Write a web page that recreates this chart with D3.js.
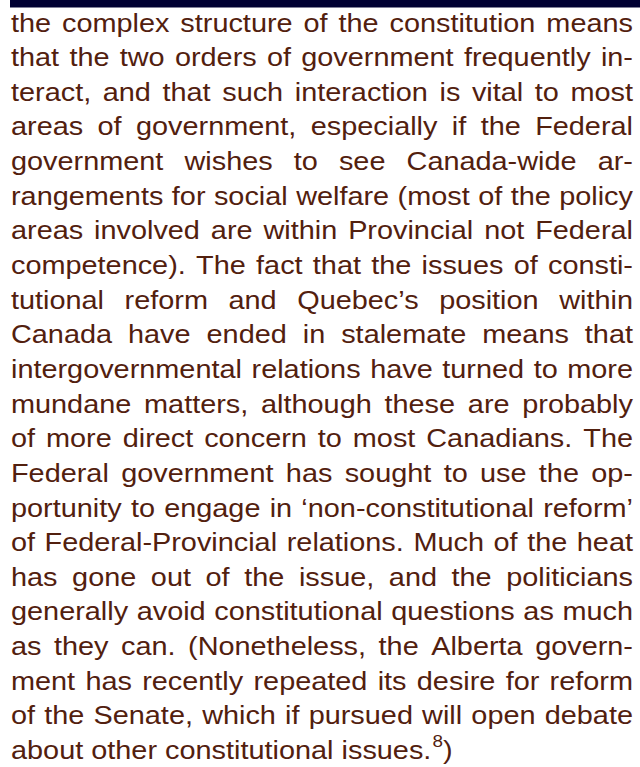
<!DOCTYPE html>
<html lang="en">
    <head>
        <meta charset="UTF-8">
        <title>text page</title>
        <script src="https://cdn.jsdelivr.net/npm/d3@7"></script>
        <style>
            body { margin: 0; background: #fff; }
        </style>
    </head>
    <body>
        <div id="page"></div>
    </body>
    <script>
        // lines of the paragraph, as set in the page
        var lines = [
            "the complex structure of the constitution means",
            "that the two orders of government frequently in-",
            "teract, and that such interaction is vital to most",
            "areas of government, especially if the Federal",
            "government wishes to see Canada-wide ar-",
            "rangements for social welfare (most of the policy",
            "areas involved are within Provincial not Federal",
            "competence). The fact that the issues of consti-",
            "tutional reform and Quebec\u2019s position within",
            "Canada have ended in stalemate means that",
            "intergovernmental relations have turned to more",
            "mundane matters, although these are probably",
            "of more direct concern to most Canadians. The",
            "Federal government has sought to use the op-",
            "portunity to engage in \u2018non-constitutional reform\u2019",
            "of Federal-Provincial relations. Much of the heat",
            "has gone out of the issue, and the politicians",
            "generally avoid constitutional questions as much",
            "as they can. (Nonetheless, the Alberta govern-",
            "ment has recently repeated its desire for reform",
            "of the Senate, which if pursued will open debate",
            "about other constitutional issues."
        ];
        var footnoteMark = "8";
        var closing = ")";

        var width = 640;
        var height = 767;
        var left = 11, right = 633;
        var fontSize = 26;
        var sx = 1.11;  // glyphs in the picture are a bit wider than tall
        var font = "'Liberation Sans', Arial, sans-serif";
        var ink = "#52200e";

        var svg = d3.select("#page")
            .append("svg")
            .attr("width", width)
            .attr("height", height);

        // dark band on top
        svg.append("rect")
            .attr("x", 10)
            .attr("y", 0)
            .attr("width", width - 10)
            .attr("height", 7.5)
            .attr("fill", "#000033");

        // baseline of each line
        var yScale = d3.scaleLinear()
            .domain([0, lines.length - 1])
            .range([31.5, 759]);

        var measure = svg.append("text")
            .attr("font-family", font)
            .attr("font-size", fontSize)
            .attr("visibility", "hidden");
        function textWidth(s) {
            measure.text(s);
            return measure.node().getComputedTextLength();
        }
        var spaceW = textWidth("a a") - textWidth("aa");
        var inner = (right - left) / sx;

        lines.forEach(function (line, i) {
            var words = line.split(" ");
            var ws = words.map(textWidth);
            var total = d3.sum(ws);
            var last = i === lines.length - 1;
            var gap = (!last && words.length > 1) ? (inner - total) / (words.length - 1) : spaceW;
            var x = 0;
            var placed = words.map(function (w, j) {
                var d = {w: w, x: x};
                x += ws[j] + gap;
                return d;
            });

            var g = svg.append("g")
                .attr("transform", "translate(" + left + "," + yScale(i) + ") scale(" + sx + ",1)");
            g.selectAll("text")
                .data(placed)
                .enter()
                .append("text")
                .attr("x", function (d) { return d.x; })
                .attr("y", 0)
                .attr("font-family", font)
                .attr("font-size", fontSize)
                .attr("fill", ink)
                .text(function (d) { return d.w; });

            if (last) {
                var endX = placed[placed.length - 1].x + ws[ws.length - 1];
                var t = g.append("text")
                    .attr("x", endX + 1)
                    .attr("y", 0)
                    .attr("font-family", font)
                    .attr("fill", ink);
                t.append("tspan")
                    .attr("font-size", 17)
                    .attr("dy", -12)
                    .text(footnoteMark);
                t.append("tspan")
                    .attr("font-size", fontSize)
                    .attr("dy", 12)
                    .text(closing);
            }
        });
        measure.remove();
    </script>
</html>
